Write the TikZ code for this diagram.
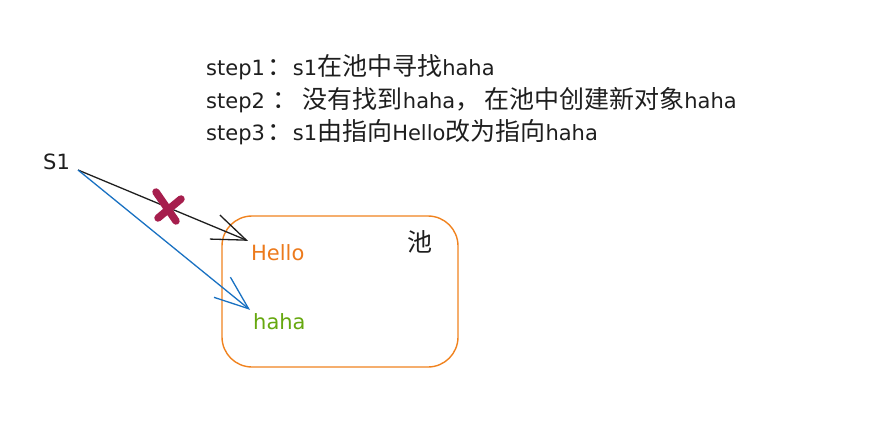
\documentclass[tikz,border=0pt]{standalone}
\usepackage{fontspec}
\setmainfont{DejaVu Sans}
\newfontfamily\cjk{Noto Sans CJK SC}
\usepackage{tikz}
\usepackage{xcolor}
\usetikzlibrary{positioning, arrows.meta, calc}
\definecolor{cText}   {HTML}{1E1E1E}
\definecolor{cPool}   {HTML}{F0821E}
\definecolor{cHello}  {HTML}{EC7A1C}
\definecolor{cHaha}   {HTML}{66A80F}
\definecolor{cNewRef} {HTML}{1971C2}
\definecolor{cCross}  {HTML}{A61E4D}
\newcommand{\hanzi}[1]{{\cjk\fontsize{25}{28}\selectfont #1}}

\tikzset{
  label21/.style  = {font=\fontsize{21}{26}\selectfont, text=cText, inner sep=3pt},
  refarrow/.style = {-{Straight Barb[length=34pt, width=26pt, line width=1.3pt]}, line width=1.3pt},
}

\begin{document}
\begin{tikzpicture}[x=1pt, y=-1pt]
  \useasboundingbox (0,0) rectangle (889,428);

  % steps
  \node[label21, anchor=base west] (step1) at (203,76)
    {step1\hanzi{\hspace{3pt}：}s1\hanzi{在池中寻找}haha};
  \node[label21, anchor=base west] (step2) at (203,108)
    {step2\hanzi{\hspace{8pt}：\hspace{5pt}没有找到}haha\hanzi{，\hspace{4pt}在池中创建新对象}haha};
  \node[label21, anchor=base west] (step3) at (203,140)
    {step3\hanzi{\hspace{3pt}：}s1\hanzi{由指向}Hello\hanzi{改为指向}haha};

  % the pool
  \node[draw=cPool, line width=1.4pt, rounded corners=30pt,
        minimum width=236pt, minimum height=151pt] (pool) at (340,291.5) {};
  \node[label21, anchor=base west] (poolname) at (404,251) {\hanzi{池}};
  \node[label21, text=cHello, anchor=base west] (hello) at (248,260) {Hello};
  \node[label21, text=cHaha,  anchor=base west] (haha)  at (250,329) {haha};

  % s1 and its references
  \node[label21, anchor=base west] (s1) at (40,169) {S1};
  \coordinate (s1tail) at (78,170);
  \draw[refarrow, cText]   (s1tail) -- (hello.north west);
  \draw[refarrow, cNewRef] (s1tail) -- (haha.north west);

  % old reference crossed out
  \draw[cCross, line width=7.5pt, line cap=round]
        (156,192) -- (176,221)
        (181,199) -- (158,218);
\end{tikzpicture}
\end{document}
